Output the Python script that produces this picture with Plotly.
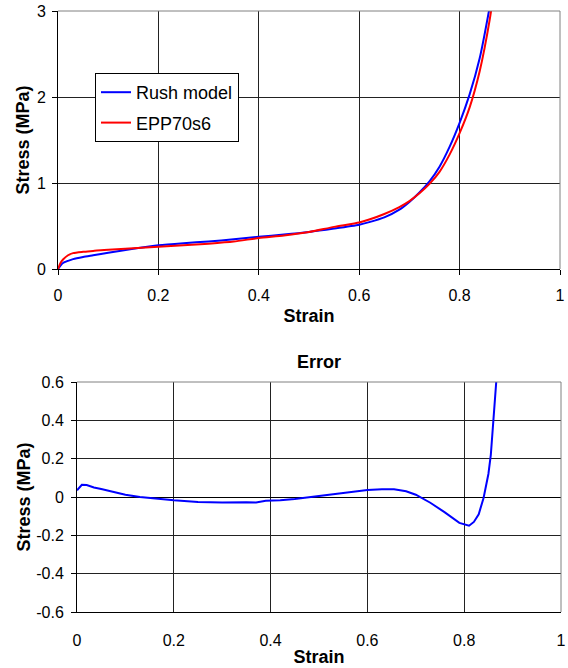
import plotly.graph_objects as go

# ---- data ----
rush_strain = [0, 0.005, 0.01, 0.02, 0.03, 0.05, 0.07, 0.1, 0.15, 0.2, 0.25, 0.3, 0.35, 0.4,
               0.45, 0.5, 0.55, 0.6, 0.62, 0.65, 0.68, 0.70, 0.72, 0.74, 0.76, 0.78, 0.8, 0.82,
               0.84, 0.86, 0.87]
rush_stress = [0, 0.04, 0.07, 0.095, 0.115, 0.14, 0.16, 0.19, 0.235, 0.275, 0.30, 0.32, 0.345, 0.375,
               0.40, 0.43, 0.47, 0.515, 0.545, 0.60, 0.69, 0.78, 0.89, 1.02, 1.19, 1.42, 1.70, 2.03,
               2.45, 3.05, 3.4]

epp_strain = [0, 0.005, 0.01, 0.02, 0.03, 0.05, 0.07, 0.1, 0.15, 0.2, 0.25, 0.3, 0.35, 0.4,
              0.45, 0.5, 0.55, 0.6, 0.62, 0.65, 0.68, 0.70, 0.72, 0.74, 0.76, 0.78, 0.8, 0.82,
              0.84, 0.86, 0.87]
epp_stress = [0, 0.07, 0.11, 0.16, 0.185, 0.2, 0.21, 0.225, 0.24, 0.26, 0.275, 0.295, 0.32, 0.36,
              0.39, 0.43, 0.49, 0.54, 0.575, 0.64, 0.72, 0.79, 0.88, 0.99, 1.13, 1.33, 1.58, 1.88,
              2.30, 2.90, 3.3]

err_strain = [0, 0.01, 0.02, 0.035, 0.05, 0.07, 0.1, 0.13, 0.16, 0.2, 0.25, 0.3, 0.35, 0.37, 0.39,
              0.42, 0.45, 0.49, 0.53, 0.56, 0.6, 0.63, 0.655, 0.68, 0.7, 0.73, 0.76, 0.79, 0.81,
              0.82, 0.83, 0.84, 0.85, 0.855, 0.86, 0.866, 0.875]
err_stress = [0.035, 0.064, 0.063, 0.05, 0.042, 0.03, 0.012, 0.0, -0.008, -0.017, -0.026, -0.029,
              -0.027, -0.029, -0.02, -0.017, -0.01, 0.002, 0.015, 0.025, 0.036, 0.04, 0.04, 0.03,
              0.012, -0.03, -0.08, -0.135, -0.15, -0.13, -0.09, -0.005, 0.12, 0.22, 0.4, 0.6, 0.9]

x_ticks = [0, 0.2, 0.4, 0.6, 0.8, 1]
x_labels = ["0", "0.2", "0.4", "0.6", "0.8", "1"]
y1_ticks = [0, 1, 2, 3]
y2_ticks = [-0.6, -0.4, -0.2, 0, 0.2, 0.4, 0.6]
y2_labels = ["-0.6", "-0.4", "-0.2", "0", "0.2", "0.4", "0.6"]

W, H = 568, 668
FONT = "Arial, 'Liberation Sans', sans-serif"

fig = go.Figure()
fig.add_trace(go.Scatter(x=rush_strain, y=rush_stress, mode="lines", name="Rush model",
                         line=dict(color="#0000FF", width=2, shape="spline", smoothing=0.6),
                         xaxis="x", yaxis="y", legendgroup="a"))
fig.add_trace(go.Scatter(x=epp_strain, y=epp_stress, mode="lines", name="EPP70s6",
                         line=dict(color="#FF0000", width=2, shape="spline", smoothing=0.6),
                         xaxis="x", yaxis="y", legendgroup="b"))
fig.add_trace(go.Scatter(x=err_strain, y=err_stress, mode="lines", name="Error",
                         line=dict(color="#0000FF", width=2), xaxis="x2", yaxis="y2",
                         showlegend=False))

axis_common = dict(showgrid=True, gridcolor="#222222", gridwidth=1,
                   tickfont=dict(family=FONT, size=16, color="black"),
                   showline=True, linecolor="black", linewidth=1, automargin=False)

fig.update_layout(
    width=W, height=H,
    margin=dict(l=0, r=0, t=0, b=0, autoexpand=False),
    paper_bgcolor="white", plot_bgcolor="white",
    font=dict(family=FONT, color="black"),
    xaxis=dict(domain=[58 / W, 560 / W], anchor="y", range=[0, 1], zeroline=False,
               tickvals=x_ticks, ticktext=x_labels, ticks="outside", ticklen=5,
               tickcolor="black", ticklabelstandoff=7,
               title=dict(text="<b>Strain</b>", font=dict(family=FONT, size=18), standoff=6),
               **axis_common),
    yaxis=dict(domain=[1 - 269 / H, 1 - 11 / H], anchor="x", range=[0, 3], zeroline=False,
               tickvals=y1_ticks, ticks="outside", ticklen=5, tickcolor="black",
               ticklabelstandoff=3,
               title=dict(text="<b>Stress (MPa)</b>", font=dict(family=FONT, size=18), standoff=2),
               **axis_common),
    xaxis2=dict(domain=[77 / W, 561 / W], anchor="y2", range=[0, 1], zeroline=False,
                tickvals=x_ticks, ticktext=x_labels, ticks="", ticklabelstandoff=14,
                title=dict(text="<b>Strain</b>", font=dict(family=FONT, size=18), standoff=2),
                **axis_common),
    yaxis2=dict(domain=[1 - 612 / H, 1 - 382 / H], anchor="x2", range=[-0.6, 0.6],
                zeroline=True, zerolinecolor="black", zerolinewidth=1,
                tickvals=y2_ticks, ticktext=y2_labels, ticks="outside", ticklen=5,
                tickcolor="black", ticklabelstandoff=4,
                title=dict(text="<b>Stress (MPa)</b>", font=dict(family=FONT, size=18), standoff=0),
                **axis_common),
    legend=dict(x=95 / W, y=1 - 73 / H, xanchor="left", yanchor="top",
                bgcolor="white", bordercolor="black", borderwidth=1, tracegroupgap=4,
                font=dict(family=FONT, size=18, color="black")),
    showlegend=True,
)

# gray top/right borders
for xr, yr in (("x domain", "y domain"), ("x2 domain", "y2 domain")):
    fig.add_shape(type="line", xref=xr, yref=yr, x0=0, x1=1, y0=1, y1=1,
                  line=dict(color="#808080", width=1))
    fig.add_shape(type="line", xref=xr, yref=yr, x0=1, x1=1, y0=0, y1=1,
                  line=dict(color="#808080", width=1))

fig.add_annotation(text="<b>Error</b>", xref="x2 domain", yref="paper",
                   x=0.5, y=1 - 362 / H, yanchor="middle", showarrow=False,
                   font=dict(family=FONT, size=18, color="black"))

fig.write_html("out.html", config={"displayModeBar": False},
               post_script="document.body.style.margin='0';document.body.style.overflow='hidden';")
